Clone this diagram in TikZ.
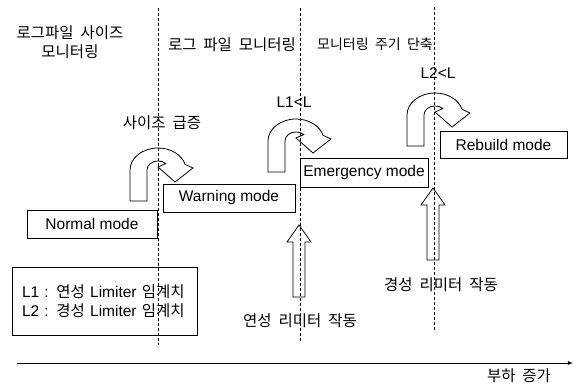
\documentclass[tikz,border=0pt]{standalone}
\usepackage{fontspec}
\setmainfont{Liberation Sans}
\newfontfamily\kofont[WordSpace=2]{Noto Sans CJK KR}
\usetikzlibrary{arrows}

\begin{document}
\begin{tikzpicture}[x=1pt,y=1pt]
  \tikzset{>=latex}
  \tikzstyle{modebox}=[draw,line width=0.8pt,minimum height=28pt,inner sep=0pt,font=\fontsize{15.5}{19}\selectfont]
  \tikzstyle{lat}=[font=\fontsize{15.5}{19}\selectfont]
  \tikzstyle{ko}=[font={\kofont\fontsize{15.5}{19}\selectfont},align=center]
  \tikzstyle{divider}=[densely dashed,line width=0.6pt]
  \tikzset{
    uturn/.pic={\draw[line width=0.8pt] (0,0) -- (0,31)
      arc[start angle=180,end angle=15,x radius=28,y radius=22]
      -- (63,33) -- (45,19) -- (28,34) -- (35.8,37.4)
      arc[start angle=45,end angle=180,x radius=11,y radius=9]
      -- (17,0) -- cycle;},
    uparrow/.pic={\draw[line width=0.8pt] (0,0) -- (-12,-17) -- (-6,-17)
      -- (-6,-72) -- (6,-72) -- (6,-17) -- (12,-17) -- cycle;}
  }
  \useasboundingbox (0,0) rectangle (574,387);

  % PHASE BORDERS
  \draw[divider] (158,379) -- (158,42);
  \draw[divider] (300,379) -- (300,45);
  \draw[divider] (434,380) -- (434,57);

  % PHASE TITLES
  \node[ko] (sizemon) at (70,345) {로그파일 사이즈\\모니터링};
  \node[ko] (logmon) at (232,342) {로그 파일 모니터링};
  \node[ko,font={\kofont\fontsize{14}{19}\selectfont}] (shorten) at (375,343) {모니터링 주기 단축};

  % MODES
  \node[modebox,minimum width=130pt] (normal) at (92,163) {Normal mode};
  \node[modebox,minimum width=132pt] (warning) at (229,189) {Warning mode};
  \node[modebox,minimum width=128pt,minimum height=29pt] (emergency) at (364,214.5) {Emergency mode};
  \node[modebox,minimum width=127pt,minimum height=27pt] (rebuild) at (503.5,242.5) {Rebuild mode};

  % TRANSITIONS
  \pic (surgeturn) at (130,186) {uturn};
  \pic (softturn) at (268,215) {uturn};
  \pic (hardturn) at (407,241) {uturn};
  \node[ko] (surge) at (162,264) {사이즈 급증};
  \node[lat] (l1) at (294,285) {L1<L};
  \node[lat] (l2) at (438,314) {L2<L};

  % LIMITERS
  \pic (softarrow) at (299,162) {uparrow};
  \pic (hardarrow) at (433,199) {uparrow};
  \node[ko] (soft) at (300,66) {연성 리미터 작동};
  \node[ko] (hard) at (441,102) {경성 리미터 작동};

  \node[draw,line width=0.8pt,minimum width=185pt,minimum height=68pt,text width=165pt,
    inner xsep=10pt,align=left,font=\fontsize{15.5}{19}\selectfont] (legend) at (104.5,86)
    {L1 : {\kofont 연성} Limiter {\kofont 임계치}\\L2 : {\kofont 경성} Limiter {\kofont 임계치}};

  % LOAD AXIS
  \coordinate (lowload) at (17,24);
  \coordinate (highload) at (573,24);
  \draw[->,line width=0.8pt] (lowload) -- (highload);
  \node[ko] (load) at (519,11) {부하 증가};
\end{tikzpicture}
\end{document}
